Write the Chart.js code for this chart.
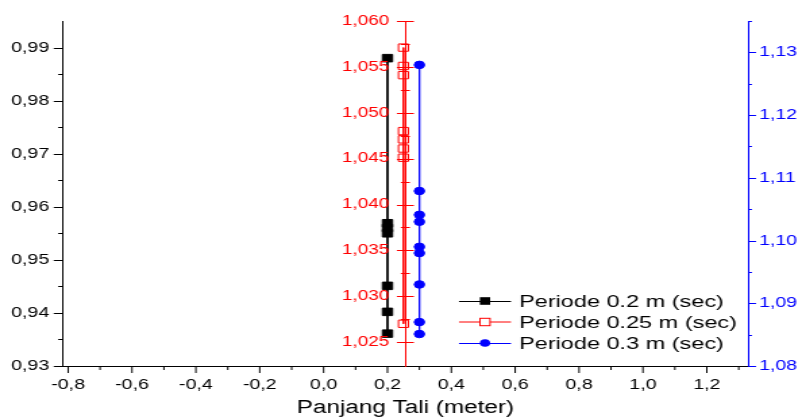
<!DOCTYPE html>
<html>
<head>
<meta charset="utf-8">
<script src="https://cdn.jsdelivr.net/npm/chart.js@4.4.1/dist/chart.umd.min.js"></script>
<style>
  html, body { margin: 0; padding: 0; background: #fff; overflow: hidden; }
</style>
</head>
<body>
<!-- the original export is stretched sideways, so the canvas is drawn narrow and widened by css -->
<canvas id="c" width="594" height="419" style="width:802px;height:419px;display:block"></canvas>
<script>
const FONT = "'Liberation Sans', Arial, sans-serif";
const S = 802 / 594;            // horizontal stretch
const px = (v) => v / S;        // css px -> canvas px

// x positions of the three series
const xPeriode02 = 0.2;
const xPeriode025 = 0.25;
const xPeriode03 = 0.3;
const redAxisAt = 0.256;

// series values
const periode02 = [0.9880, 0.9569, 0.9560, 0.9550, 0.9451, 0.9402, 0.9361];
const periode025 = [1.0571, 1.0551, 1.0541, 1.0480, 1.0471, 1.0461, 1.0451, 1.0270];
const periode03 = [1.1280, 1.1079, 1.1041, 1.1030, 1.0990, 1.0980, 1.0930, 1.0870, 1.0851];

const seriesNames = ['Periode 0.2 m (sec)', 'Periode 0.25 m (sec)', 'Periode 0.3 m (sec)'];

// ticks
const xTicks = [-0.8, -0.6, -0.4, -0.2, 0, 0.2, 0.4, 0.6, 0.8, 1.0, 1.2];
const xMinor = [-0.7, -0.5, -0.3, -0.1, 0.1, 0.3, 0.5, 0.7, 0.9, 1.1, 1.3];
const leftTicks = [0.93, 0.94, 0.95, 0.96, 0.97, 0.98, 0.99];
const leftMinor = [0.935, 0.945, 0.955, 0.965, 0.975, 0.985];
const redTicks = [1.025, 1.030, 1.035, 1.040, 1.045, 1.050, 1.055, 1.060];
const redMinor = [1.0275, 1.0325, 1.0375, 1.0425, 1.0475, 1.0525, 1.0575];
const blueTicks = [1.08, 1.09, 1.10, 1.11, 1.12, 1.13];
const blueMinor = [1.085, 1.095, 1.105, 1.115, 1.125, 1.135];

const fmt = (d) => (v) => v.toFixed(d).replace('.', ',');
const pts = (x, ys) => ys.map((y) => ({ x, y }));
const setTicks = (vals) => (scale) => { scale.ticks = vals.map((value) => ({ value })); };

const axisDecor = {
  id: 'axisDecor',
  afterDraw(chart) {
    const { ctx, chartArea: a, scales } = chart;
    const seg = (x0, y0, x1, y1) => { ctx.beginPath(); ctx.moveTo(x0, y0); ctx.lineTo(x1, y1); ctx.stroke(); };
    ctx.save();
    ctx.lineWidth = 1;

    // bottom axis, ticks down
    ctx.strokeStyle = '#000';
    xTicks.forEach((v) => { const x = scales.x.getPixelForValue(v); seg(x, a.bottom, x, a.bottom + 7); });
    xMinor.forEach((v) => { const x = scales.x.getPixelForValue(v); seg(x, a.bottom, x, a.bottom + 4); });

    // left axis, ticks out
    leftTicks.forEach((v) => { const y = Math.round(scales.y.getPixelForValue(v)) + 0.5; seg(a.left, y, a.left - px(9), y); });
    leftMinor.forEach((v) => { const y = Math.round(scales.y.getPixelForValue(v)) + 0.5; seg(a.left, y, a.left - px(4.5), y); });

    // right axis (blue)
    ctx.strokeStyle = '#0000ff';
    blueTicks.forEach((v) => { const y = Math.round(scales.yBlue.getPixelForValue(v)) + 0.5; seg(a.right, y, a.right + px(8), y); });
    blueMinor.forEach((v) => { const y = Math.round(scales.yBlue.getPixelForValue(v)) + 0.5; seg(a.right, y, a.right + px(4), y); });

    // middle axis (red): ticks cross the line, labels on the left
    const rx = scales.x.getPixelForValue(redAxisAt);
    ctx.strokeStyle = '#ff0000';
    redTicks.forEach((v) => { const y = Math.round(scales.yRed.getPixelForValue(v)) + 0.5; seg(rx - px(8.5), y, rx + px(8.5), y); });
    redMinor.forEach((v) => { const y = Math.round(scales.yRed.getPixelForValue(v)) + 0.5; seg(rx - px(4.5), y, rx + px(4.5), y); });
    ctx.fillStyle = '#ff0000';
    ctx.font = '14px ' + FONT;
    ctx.textAlign = 'right'; ctx.textBaseline = 'middle';
    redTicks.forEach((v) => ctx.fillText(fmt(3)(v), rx - px(16), scales.yRed.getPixelForValue(v)));

    // legend
    const colors = ['#000000', '#ff0000', '#0000ff'];
    const rows = [301, 322, 343];
    const lx0 = px(459), lx1 = px(511), mx = px(485), tx = px(519);
    ctx.font = '17.4px ' + FONT;
    ctx.textAlign = 'left';
    seriesNames.forEach((name, i) => {
      const y = rows[i];
      ctx.strokeStyle = colors[i];
      seg(lx0, y + (i === 1 ? 0 : 0.5), lx1, y + (i === 1 ? 0 : 0.5));
      ctx.fillStyle = colors[i];
      if (i === 0) ctx.fillRect(mx - 3.8, y - 3.8, 7.6, 7.6);
      if (i === 1) { ctx.fillStyle = '#fff'; ctx.fillRect(mx - 3.7, y - 3.7, 7.4, 7.4); ctx.strokeRect(mx - 3.7, y - 3.7, 7.4, 7.4); }
      if (i === 2) { ctx.beginPath(); ctx.arc(mx, y, 3.8, 0, Math.PI * 2); ctx.fill(); }
      ctx.fillStyle = '#000';
      ctx.fillText(name, tx, y + 1);
    });
    ctx.restore();
  },
};

new Chart(document.getElementById('c'), {
  type: 'scatter',
  data: {
    datasets: [
      { label: seriesNames[0], data: pts(xPeriode02, periode02), yAxisID: 'y', showLine: true,
        borderColor: '#000', backgroundColor: '#000', borderWidth: 1, pointStyle: 'rect', pointRadius: 5.3, pointBorderWidth: 1 },
      { label: seriesNames[1], data: pts(xPeriode025, periode025), yAxisID: 'yRed', showLine: true,
        borderColor: '#ff0000', backgroundColor: 'rgba(0,0,0,0)', borderWidth: 1, pointStyle: 'rect', pointRadius: 5.2, pointBorderWidth: 1 },
      { label: seriesNames[2], data: pts(xPeriode03, periode03), yAxisID: 'yBlue', showLine: true,
        borderColor: '#0000ff', backgroundColor: '#0000ff', borderWidth: 1, pointStyle: 'circle', pointRadius: 3.8, pointBorderWidth: 1 },
    ],
  },
  options: {
    responsive: false, animation: false, events: [],
    layout: { padding: { top: 21, left: 0, right: 0, bottom: 0 } },
    plugins: { legend: { display: false }, tooltip: { enabled: false } },
    scales: {
      x: {
        type: 'linear', position: 'bottom', min: -0.817, max: 1.329,
        afterBuildTicks: setTicks(xTicks),
        afterFit: (s) => { s.height = 53; },
        grid: { drawOnChartArea: false, drawTicks: false },
        border: { display: true, color: '#000', width: 1 },
        ticks: { callback: fmt(1), color: '#000', font: { family: FONT, size: 14.5 }, padding: 10, maxRotation: 0, autoSkip: false },
        title: { display: true, text: 'Panjang Tali (meter)', color: '#000', font: { family: FONT, size: 18 }, padding: { top: 0, bottom: 0 } },
      },
      y: {
        type: 'linear', position: 'left', min: 0.93, max: 0.995,
        afterBuildTicks: setTicks(leftTicks),
        afterFit: (s) => { s.width = px(62.7); },
        grid: { drawOnChartArea: false, drawTicks: false },
        border: { display: true, color: '#000', width: 1 },
        ticks: { callback: fmt(2), color: '#000', font: { family: FONT, size: 14.5 }, padding: px(13.5) },
      },
      yRed: {
        type: 'linear', position: { x: redAxisAt }, min: 1.0224, max: 1.060,
        afterBuildTicks: setTicks(redTicks),
        grid: { drawOnChartArea: false, drawTicks: false },
        border: { display: true, color: '#ff0000', width: 1 },
        ticks: { display: false },
      },
      yBlue: {
        type: 'linear', position: 'right', min: 1.08, max: 1.135,
        afterBuildTicks: setTicks(blueTicks),
        afterFit: (s) => { s.width = 594 - px(748); },
        grid: { drawOnChartArea: false, drawTicks: false },
        border: { display: true, color: '#0000ff', width: 1 },
        ticks: { callback: fmt(2), color: '#0000ff', font: { family: FONT, size: 14.5 }, padding: px(11) },
      },
    },
  },
  plugins: [axisDecor],
});
</script>
</body>
</html>
